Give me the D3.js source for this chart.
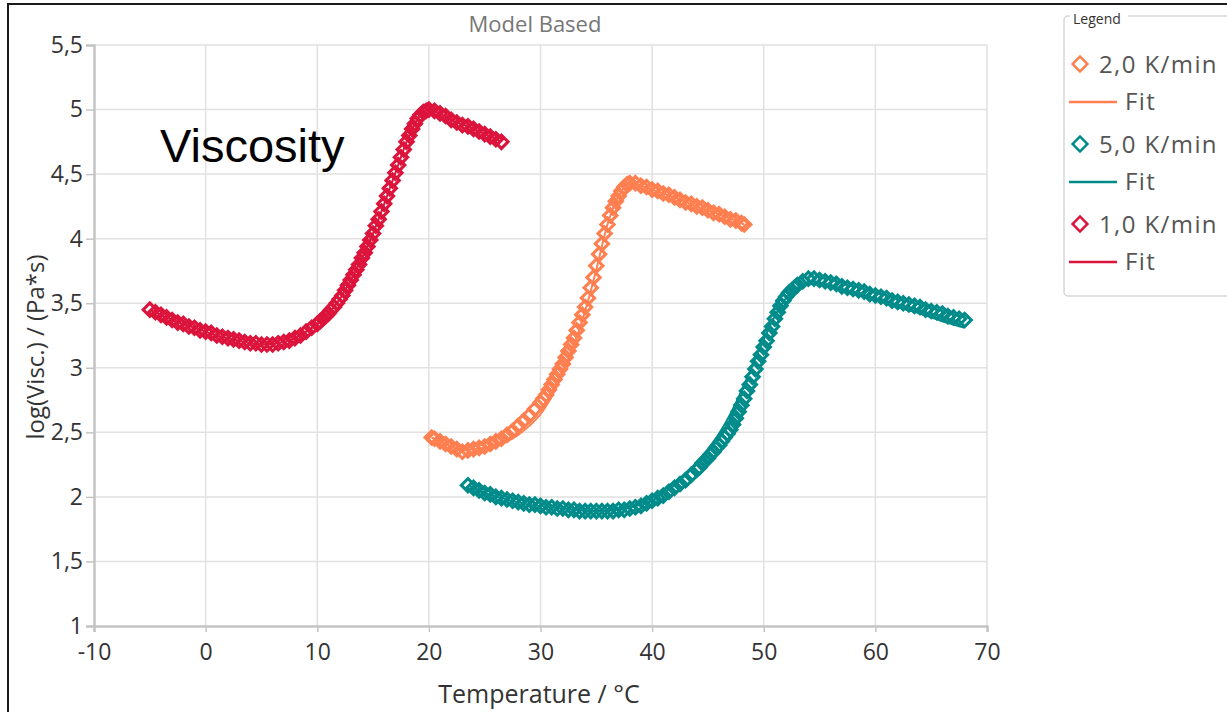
<!DOCTYPE html>
<html>
<head>
<meta charset="utf-8">
<script src="https://cdn.jsdelivr.net/npm/d3@7"></script>
<style>
  body { margin: 0; background: #fff; }
  svg { display: block; font-family: "Open Sans", "Noto Sans", sans-serif; }
</style>
</head>
<body>
<div id="chart"></div>
<script>
// measured points [temperature °C, log(visc)]
const rate2Data = [[20.25,2.46],[20.5,2.45],[21,2.43],[21.5,2.41],[22,2.39],[22.5,2.37],[23,2.35],[23.5,2.36],[24,2.37],[24.5,2.38],[25,2.39],[25.5,2.41],[26,2.43],[26.5,2.45],[27,2.48],[27.5,2.51],[28,2.55],[28.5,2.59],[29,2.63],[29.5,2.68],[30,2.73],[30.25,2.76],[30.5,2.79],[30.75,2.83],[31,2.87],[31.25,2.91],[31.5,2.95],[31.75,2.99],[32,3.03],[32.25,3.08],[32.5,3.13],[32.75,3.18],[33,3.23],[33.25,3.29],[33.5,3.35],[33.75,3.41],[34,3.47],[34.25,3.54],[34.5,3.62],[34.75,3.70],[35,3.79],[35.25,3.88],[35.5,3.96],[35.75,4.04],[36,4.11],[36.25,4.18],[36.5,4.24],[36.75,4.29],[37,4.33],[37.25,4.37],[37.5,4.40],[37.75,4.42],[38,4.43],[38.5,4.43],[39,4.41],[39.5,4.40],[40,4.38],[40.5,4.37],[41,4.35],[41.5,4.34],[42,4.32],[42.5,4.30],[43,4.28],[43.5,4.27],[44,4.25],[44.5,4.24],[45,4.22],[45.5,4.20],[46,4.19],[46.5,4.17],[47,4.15],[47.5,4.14],[48,4.12],[48.25,4.11]];
const rate2Fit = [[20.25,2.46],[21,2.43],[22,2.39],[23,2.36],[24,2.37],[25,2.38],[26,2.40],[27,2.43],[28,2.48],[29,2.55],[30,2.64],[31,2.78],[32,2.96],[33,3.18],[34,3.44],[35,3.76],[36,4.11],[37,4.33],[38,4.43],[39,4.41],[40,4.38],[42,4.32],[44,4.25],[46,4.19],[48.25,4.11]];

const rate5Data = [[23.5,2.09],[24,2.07],[24.5,2.05],[25,2.03],[25.5,2.02],[26,2.00],[26.5,1.99],[27,1.98],[27.5,1.97],[28,1.96],[28.5,1.95],[29,1.94],[29.5,1.94],[30,1.93],[30.5,1.92],[31,1.92],[31.5,1.91],[32,1.91],[32.5,1.90],[33,1.90],[33.5,1.89],[34,1.89],[34.5,1.89],[35,1.89],[35.5,1.89],[36,1.89],[36.5,1.89],[37,1.90],[37.5,1.90],[38,1.91],[38.5,1.92],[39,1.93],[39.5,1.95],[40,1.97],[40.5,1.99],[41,2.01],[41.5,2.04],[42,2.07],[42.5,2.10],[43,2.13],[43.5,2.17],[44,2.21],[44.25,2.23],[44.5,2.26],[44.75,2.28],[45,2.30],[45.25,2.33],[45.5,2.35],[45.75,2.38],[46,2.40],[46.25,2.43],[46.5,2.46],[46.75,2.49],[47,2.52],[47.25,2.56],[47.5,2.61],[47.75,2.66],[48,2.71],[48.25,2.76],[48.5,2.82],[48.75,2.87],[49,2.93],[49.25,2.99],[49.5,3.05],[49.75,3.10],[50,3.16],[50.25,3.21],[50.5,3.27],[50.75,3.32],[51,3.38],[51.25,3.43],[51.5,3.48],[51.75,3.52],[52,3.55],[52.25,3.58],[52.5,3.60],[52.75,3.62],[53,3.64],[53.5,3.67],[54,3.69],[54.5,3.69],[55,3.68],[55.5,3.67],[56,3.66],[56.5,3.65],[57,3.63],[57.5,3.62],[58,3.61],[58.5,3.60],[59,3.59],[59.5,3.57],[60,3.56],[60.5,3.55],[61,3.54],[61.5,3.52],[62,3.51],[62.5,3.50],[63,3.49],[63.5,3.48],[64,3.47],[64.5,3.45],[65,3.44],[65.5,3.43],[66,3.42],[66.5,3.40],[67,3.39],[67.5,3.38],[68,3.37]];
const rate5Fit = [[23.5,2.09],[25,2.03],[27,1.98],[29,1.94],[31,1.92],[33,1.90],[35,1.89],[37,1.90],[39,1.94],[40,1.97],[41,2.03],[42,2.09],[43,2.17],[44,2.26],[45,2.37],[46,2.49],[47,2.64],[48,2.82],[49,3.02],[50,3.22],[51,3.40],[52,3.54],[53,3.62],[54,3.65],[55,3.65],[56,3.63],[58,3.58],[60,3.53],[62,3.47],[64,3.42],[66,3.36],[68,3.31]];

const rate1Data = [[-5,3.45],[-4.5,3.43],[-4,3.41],[-3.5,3.39],[-3,3.37],[-2.5,3.35],[-2,3.34],[-1.5,3.32],[-1,3.31],[-0.5,3.29],[0,3.28],[0.5,3.27],[1,3.25],[1.5,3.24],[2,3.23],[2.5,3.22],[3,3.21],[3.5,3.20],[4,3.19],[4.5,3.19],[5,3.18],[5.5,3.18],[6,3.18],[6.5,3.19],[7,3.20],[7.5,3.21],[8,3.23],[8.5,3.25],[9,3.28],[9.5,3.31],[10,3.34],[10.25,3.36],[10.5,3.38],[10.75,3.40],[11,3.42],[11.25,3.45],[11.5,3.47],[11.75,3.50],[12,3.53],[12.25,3.56],[12.5,3.60],[12.75,3.64],[13,3.68],[13.25,3.72],[13.5,3.76],[13.75,3.80],[14,3.85],[14.25,3.89],[14.5,3.94],[14.75,3.99],[15,4.04],[15.25,4.10],[15.5,4.15],[15.75,4.21],[16,4.27],[16.25,4.33],[16.5,4.39],[16.75,4.45],[17,4.51],[17.25,4.57],[17.5,4.63],[17.75,4.69],[18,4.75],[18.25,4.80],[18.5,4.85],[18.75,4.89],[19,4.93],[19.25,4.96],[19.5,4.98],[19.75,4.99],[20,5.00],[20.5,4.99],[21,4.97],[21.5,4.95],[22,4.92],[22.5,4.90],[23,4.88],[23.5,4.87],[24,4.85],[24.5,4.83],[25,4.81],[25.5,4.79],[26,4.77],[26.5,4.75]];
const rate1Fit = [[-5,3.45],[-3,3.37],[-1,3.31],[1,3.25],[3,3.21],[5,3.18],[7,3.20],[8,3.23],[9,3.28],[10,3.34],[11,3.42],[12,3.53],[13,3.68],[14,3.85],[15,4.04],[16,4.27],[17,4.51],[18,4.75],[19,4.93],[20,5.00],[22,4.92],[24,4.85],[26.5,4.75]];

const seriesNames = ["2,0 K/min", "5,0 K/min", "1,0 K/min"];
const seriesColors = ["#FF7F50", "#008B8B", "#DC143C"];
const xTicks = [-10, 0, 10, 20, 30, 40, 50, 60, 70];
const yTicks = [1, 1.5, 2, 2.5, 3, 3.5, 4, 4.5, 5, 5.5];

const series = [
  {name: seriesNames[0], color: seriesColors[0], data: rate2Data, fit: rate2Fit},
  {name: seriesNames[1], color: seriesColors[1], data: rate5Data, fit: rate5Fit},
  {name: seriesNames[2], color: seriesColors[2], data: rate1Data, fit: rate1Fit}
];

const W = 1227, H = 712;
const svg = d3.select("#chart").append("svg").attr("width", W).attr("height", H);

// outer frame (only left and top visible)
svg.append("path").attr("d", `M8,${H} L8,4 L${W},4`)
   .attr("fill", "none").attr("stroke", "#1a1a1a").attr("stroke-width", 2);

const x = d3.scaleLinear().domain([-10, 70]).range([94, 987]);
const y = d3.scaleLinear().domain([1, 5.5]).range([626, 45]);
const fmt = d => String(d).replace(".", ",");

// grid
svg.append("g").selectAll("line").data(xTicks.slice(1)).enter().append("line")
   .attr("x1", d => x(d)).attr("x2", d => x(d)).attr("y1", y(1)).attr("y2", y(5.5))
   .attr("stroke", "#e1e1e1").attr("stroke-width", 1.5);
svg.append("g").selectAll("line").data(yTicks.slice(1)).enter().append("line")
   .attr("x1", x(-10)).attr("x2", x(70)).attr("y1", d => y(d)).attr("y2", d => y(d))
   .attr("stroke", "#e1e1e1").attr("stroke-width", 1.5);

// axes
const xAxis = svg.append("g").attr("transform", `translate(0,${y(1)})`)
   .call(d3.axisBottom(x).tickValues(xTicks).tickSize(6).tickPadding(12).tickFormat(fmt));
const yAxis = svg.append("g").attr("transform", `translate(${x(-10)},0)`)
   .call(d3.axisLeft(y).tickValues(yTicks).tickSize(8).tickPadding(3).tickFormat(fmt));
[xAxis, yAxis].forEach(a => {
  a.select(".domain").attr("stroke", "#c4c4c4").attr("stroke-width", 2.5);
  a.selectAll(".tick line").attr("stroke", "#c4c4c4").attr("stroke-width", 1.5);
  a.selectAll("text").attr("font-size", 23).attr("fill", "#333")
   .attr("font-family", '"Open Sans", sans-serif');
});

// titles
svg.append("text").attr("x", 535).attr("y", 32).attr("text-anchor", "middle")
   .attr("font-size", 22).attr("fill", "#777").text("Model Based");
svg.append("text").attr("x", 539).attr("y", 703).attr("text-anchor", "middle")
   .attr("font-size", 25).attr("fill", "#333").text("Temperature / °C");
svg.append("text").attr("transform", "translate(44,347) rotate(-90)").attr("text-anchor", "middle")
   .attr("font-size", 24).attr("fill", "#333").text("log(Visc.) / (Pa*s)");
svg.append("text").attr("x", 160).attr("y", 162)
   .attr("font-family", '"Liberation Sans", Arial, sans-serif')
   .attr("font-size", 47).attr("fill", "#000").text("Viscosity");

// data
const diamond = d3.symbol().type(d3.symbolSquare).size(88);
const fitLine = d3.line().x(d => x(d[0])).y(d => y(d[1])).curve(d3.curveMonotoneX);

series.forEach(s => {
  const g = svg.append("g");
  g.append("path").datum(s.fit).attr("d", fitLine)
   .attr("fill", "none").attr("stroke", s.color).attr("stroke-width", 2);
  g.selectAll("path.m").data(s.data).enter().append("path")
   .attr("class", "m")
   .attr("d", diamond)
   .attr("transform", d => `translate(${x(d[0])},${y(d[1])}) rotate(45)`)
   .attr("fill", "none").attr("stroke", s.color).attr("stroke-width", 3.1);
});

// legend
const lg = svg.append("g");
lg.append("rect").attr("x", 1064).attr("y", 16).attr("width", 200).attr("height", 280)
  .attr("rx", 4).attr("fill", "none").attr("stroke", "#d6d6d6").attr("stroke-width", 1.5);
lg.append("rect").attr("x", 1070).attr("y", 8).attr("width", 58).attr("height", 16).attr("fill", "#fff");
lg.append("text").attr("x", 1073).attr("y", 24).attr("font-size", 14).attr("fill", "#333").text("Legend");

series.forEach((s, i) => {
  const cy = 64 + i * 80;
  lg.append("path").attr("d", d3.symbol().type(d3.symbolSquare).size(110))
    .attr("transform", `translate(1080,${cy}) rotate(45)`)
    .attr("fill", "#fff").attr("stroke", s.color).attr("stroke-width", 2.5);
  lg.append("text").attr("x", 1099).attr("y", cy + 9).attr("font-size", 24)
    .attr("letter-spacing", 1.4).attr("fill", "#555").text(s.name);
  lg.append("line").attr("x1", 1069).attr("x2", 1117).attr("y1", cy + 38).attr("y2", cy + 38)
    .attr("stroke", s.color).attr("stroke-width", 2.5);
  lg.append("text").attr("x", 1125).attr("y", cy + 46).attr("font-size", 24)
    .attr("letter-spacing", 1.4).attr("fill", "#555").text("Fit");
});
</script>
</body>
</html>
